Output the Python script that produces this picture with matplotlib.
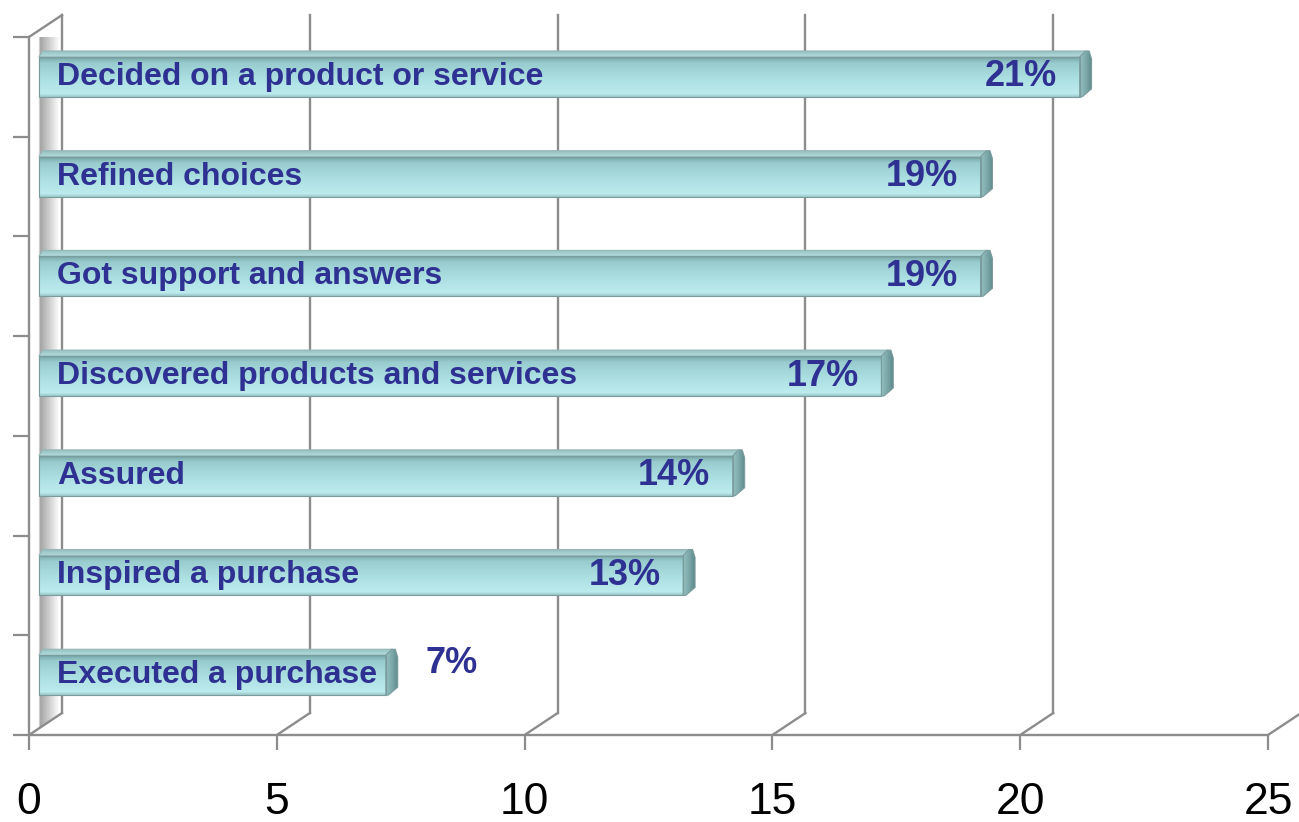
#!/usr/bin/env python3
"""Horizontal 3D-style bar chart: what online activity helped shoppers do."""

import numpy as np
import matplotlib.pyplot as plt
from matplotlib.colors import LinearSegmentedColormap
from matplotlib.patches import Polygon

# Data (bottom to top)
categories = [
    "Executed a purchase",
    "Inspired a purchase",
    "Assured",
    "Discovered products and services",
    "Got support and answers",
    "Refined choices",
    "Decided on a product or service",
]
values = [7, 13, 14, 17, 19, 19, 21]
x_ticks = [0, 5, 10, 15, 20, 25]

# Style / geometry
GRID = "#8c8c8c"
TEXT_BLUE = "#2e3192"
DEPTH_X, DEPTH_Y = 0.666, 0.22     # back-wall offset in data units
BAR_X0 = 0.2                       # bar starts slightly off the wall
BAR_SHIFT = 0.1                    # bars sit a bit above slot centre
BAR_H = 0.40
TOP_H = 0.06
CAP_W = 0.24

plt.rcParams["font.family"] = ["Liberation Sans", "DejaVu Sans"]

fig = plt.figure(figsize=(12.99, 8.22), dpi=100)
ax = fig.add_axes([29 / 1299, 87 / 822, 1239 / 1299, 698 / 822])
n = len(categories)

# Left wall with grey shading
wall = Polygon([(0, 0), (DEPTH_X, DEPTH_Y), (DEPTH_X, n + DEPTH_Y), (0, n)],
               closed=True, facecolor="none", edgecolor="none")
ax.add_patch(wall)
wall_cmap = LinearSegmentedColormap.from_list(
    "wall", [(0, "#ffffff"), (0.28, "#ffffff"), (0.33, "#a4a4a4"),
             (0.9, "#ffffff"), (1, "#ffffff")])
img = ax.imshow(np.linspace(0, 1, 200)[None, :], cmap=wall_cmap, aspect="auto",
                extent=[0, DEPTH_X, 0, n + DEPTH_Y], zorder=1)
img.set_clip_path(wall)

# Floor diagonals and back-wall gridlines
for v in x_ticks:
    ax.plot([v, v + DEPTH_X], [0, DEPTH_Y], color=GRID, lw=1.7, clip_on=False, zorder=2)
    ax.plot([v + DEPTH_X, v + DEPTH_X], [DEPTH_Y, n + DEPTH_Y], color=GRID, lw=1.7,
            clip_on=False, zorder=2)
ax.plot([0, DEPTH_X], [n, n + DEPTH_Y], color=GRID, lw=1.7, clip_on=False, zorder=2)

# Bars
front_cmap = LinearSegmentedColormap.from_list(
    "front", [(0, "#9cc8ca"), (0.08, "#bdebee"), (0.45, "#acdfe2"),
              (0.85, "#99cccf"), (0.95, "#84b4b6"), (1, "#6f9b9d")])
top_cmap = LinearSegmentedColormap.from_list(
    "top", [(0, "#b2dcde"), (1, "#98bfc0")])
cap_cmap = LinearSegmentedColormap.from_list(
    "cap", [(0, "#95c0c2"), (0.5, "#7ea9ab"), (1, "#5f8a8c")])

for i, (label, v) in enumerate(zip(categories, values)):
    yc = i + 0.5 + BAR_SHIFT
    yb, yt = yc - BAR_H / 2, yc + BAR_H / 2
    x1 = v + BAR_X0

    # top face
    top = Polygon([(BAR_X0, yt), (BAR_X0 + 0.08, yt + TOP_H), (x1 + 0.12, yt + TOP_H),
                   (x1 + 0.02, yt)], closed=True, facecolor="none",
                  edgecolor="#94b8b9", lw=0.8, zorder=4)
    ax.add_patch(top)
    t = ax.imshow(np.linspace(0, 1, 50)[:, None], cmap=top_cmap, aspect="auto",
                  extent=[BAR_X0, x1 + 0.12, yt, yt + TOP_H], origin="lower", zorder=3)
    t.set_clip_path(top)

    # front face with vertical gradient
    front = Polygon([(BAR_X0, yb), (x1, yb), (x1, yt), (BAR_X0, yt)], closed=True,
                    facecolor="none", edgecolor="#7a9c9d", lw=0.8, zorder=4)
    ax.add_patch(front)
    g = ax.imshow(np.linspace(0, 1, 100)[:, None], cmap=front_cmap, aspect="auto",
                  extent=[BAR_X0, x1, yt, yb], origin="upper", zorder=3.5)
    g.set_clip_path(front)

    # end cap
    cap = Polygon([(x1, yb), (x1 + 0.05, yb), (x1 + CAP_W, yb + 0.08),
                   (x1 + CAP_W, yt - 0.02), (x1 + CAP_W - 0.05, yt + TOP_H),
                   (x1 + 0.12, yt + TOP_H), (x1, yt)], closed=True, facecolor="none",
                  edgecolor="#7a9c9d", lw=0.8, zorder=4)
    ax.add_patch(cap)
    c = ax.imshow(np.linspace(0, 1, 100)[None, :], cmap=cap_cmap, aspect="auto",
                  extent=[x1, x1 + CAP_W, yb, yt + TOP_H], zorder=3.5)
    c.set_clip_path(cap)

    # labels
    ax.text(BAR_X0 + 0.37, yc, label, color=TEXT_BLUE, fontsize=23,
            fontweight="bold", ha="left", va="center", zorder=5)
    if v >= 10:
        ax.text(x1 - 0.46, yc, f"{v}%", color=TEXT_BLUE, fontsize=26,
                fontweight="bold", ha="right", va="center", zorder=5)
    else:
        ax.text(x1 + 0.8, yc + 0.12, f"{v}%", color=TEXT_BLUE, fontsize=26,
                fontweight="bold", ha="left", va="center", zorder=5)

# Axes
ax.set_xlim(0, 25)
ax.set_ylim(0, n)
ax.set_xticks(x_ticks)
ax.set_xticklabels([str(t) for t in x_ticks])
ax.set_yticks(range(n + 1))
ax.set_yticklabels([])
ax.tick_params(axis="x", length=11, width=1.6, color=GRID, labelsize=32, pad=23)
ax.tick_params(axis="y", length=11.5, width=1.6, color=GRID)
for side in ("top", "right"):
    ax.spines[side].set_visible(False)
for side in ("left", "bottom"):
    ax.spines[side].set_color(GRID)
    ax.spines[side].set_linewidth(1.7)
ax.set_facecolor("none")

fig.savefig("out.png", dpi=100)
